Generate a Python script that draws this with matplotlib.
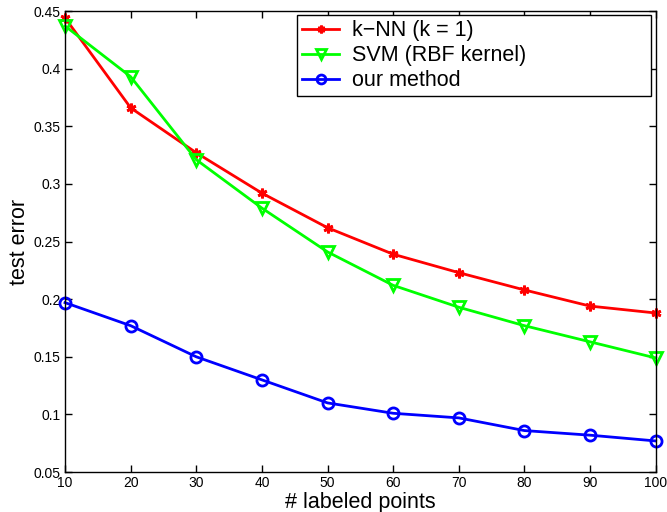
import matplotlib.pyplot as plt

plt.rcParams['font.family'] = ['Liberation Sans', 'DejaVu Sans']

n_labeled = [10, 20, 30, 40, 50, 60, 70, 80, 90, 100]
knn_err = [0.444, 0.366, 0.327, 0.292, 0.262, 0.239, 0.223, 0.208, 0.194, 0.188]
svm_err = [0.437, 0.393, 0.321, 0.279, 0.241, 0.212, 0.193, 0.177, 0.163, 0.149]
our_err = [0.197, 0.177, 0.150, 0.130, 0.110, 0.101, 0.097, 0.086, 0.082, 0.077]

x_ticks = [10, 20, 30, 40, 50, 60, 70, 80, 90, 100]
y_ticks = [0.05, 0.1, 0.15, 0.2, 0.25, 0.3, 0.35, 0.4, 0.45]
y_ticklabels = ["0.05", "0.1", "0.15", "0.2", "0.25", "0.3", "0.35", "0.4", "0.45"]

fig = plt.figure(figsize=(6.67, 5.12), dpi=100)
ax = fig.add_axes([0.0975, 0.078, 0.8855, 0.9005])

ax.plot(n_labeled, knn_err, color=(1, 0, 0), linewidth=2, marker=(6, 2, 0),
        markersize=7, markeredgewidth=2, label="k\u2212NN (k = 1)", clip_on=False)
ax.plot(n_labeled, svm_err, color=(0, 1, 0), linewidth=2, marker="v",
        markersize=9, markerfacecolor="none", markeredgewidth=2,
        label="SVM (RBF kernel)", clip_on=False)
ax.plot(n_labeled, our_err, color=(0, 0, 1), linewidth=2, marker="o",
        markersize=8, markerfacecolor="none", markeredgewidth=2,
        label="our method", clip_on=False)

ax.set_xlim(10, 100)
ax.set_ylim(0.05, 0.45)
ax.set_xticks(x_ticks)
ax.set_yticks(y_ticks)
ax.set_yticklabels(y_ticklabels)
ax.tick_params(direction="in", top=True, right=True, length=5, width=1,
               labelsize=10, pad=3)
for s in ax.spines.values():
    s.set_linewidth(1)

ax.set_xlabel("# labeled points", fontsize=15.5, labelpad=1)
ax.set_ylabel("test error", fontsize=15.5, labelpad=3)

# wide legend box in the upper right, entries left-aligned
leg = ax.legend(loc="upper left", bbox_to_anchor=(0.393, 0.82, 0.599, 0.171),
                mode="expand", fontsize=15.5, fancybox=False,
                edgecolor="black", framealpha=1, handlelength=1.7,
                handletextpad=0.6, borderpad=0.24, labelspacing=0.18,
                borderaxespad=0, markerscale=0.8)
leg.get_frame().set_linewidth(1)

fig.savefig("out.png", dpi=100)
